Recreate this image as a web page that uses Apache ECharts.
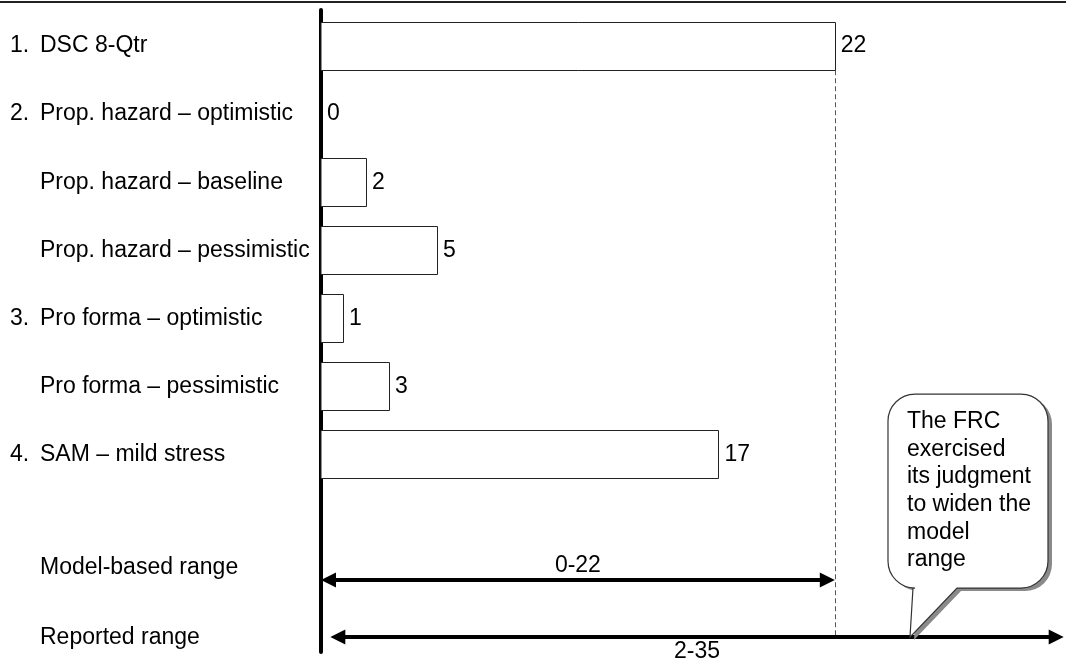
<!DOCTYPE html>
<html>
<head>
<meta charset="utf-8">
<script src="https://cdn.jsdelivr.net/npm/echarts@6/dist/echarts.min.js"></script>
<style>
html,body{margin:0;padding:0;background:#fff;}
#chart{width:1066px;height:663px;}
</style>
</head>
<body>
<div id="chart"></div>
<script>
// ---- data ----
const groupNumbers = ['1.', '2.', '', '', '3.', '', '4.'];
const categories = ['DSC 8-Qtr', 'Prop. hazard – optimistic', 'Prop. hazard – baseline', 'Prop. hazard – pessimistic', 'Pro forma – optimistic', 'Pro forma – pessimistic', 'SAM – mild stress'];
const values = [22, 0, 1.93, 4.97, 0.94, 2.91, 17.02];
const valueLabels = ['22', '0', '2', '5', '1', '3', '17'];
const rangeNames = ['Model-based range', 'Reported range'];
const rangeLabels = ['0-22', '2-35'];
const rangeStarts = [0, 0.4];
const rangeEnds = [22, 31.8];
const rangeLabelRows = [7.66, 8.69];
const rangeArrowRows = [7.84, 8.68];
const calloutText = 'The FRC\nexercised\nits judgment\nto widen the\nmodel\nrange';
const calloutAnchor = [25.22, 8.68];

// ---- chart ----
const FONT = '"Liberation Sans", Arial, sans-serif';
const chart = echarts.init(document.getElementById('chart'), null, {renderer: 'canvas'});

const rowLabelData = categories.map((c, i) => [0, i, groupNumbers[i], c])
  .concat(rangeNames.map((c, i) => [0, rangeLabelRows[i], '', c]));

function textEl(x, y, text, align, vAlign) {
  return {
    type: 'text',
    style: {x: x, y: y, text: text, fill: '#000', font: '23px ' + FONT,
      textAlign: align || 'left', textVerticalAlign: vAlign || 'middle'}
  };
}

function arrowHead(tipX, y, dir) {
  const L = 15, H = 7.5;
  return {
    type: 'polygon',
    shape: {points: [[tipX, y], [tipX + dir * L, y - H], [tipX + dir * L, y + H]]},
    style: {fill: '#000'}
  };
}

const option = {
  animation: false,
  grid: {left: 321, right: 0, top: 10, bottom: 11},
  xAxis: {type: 'value', min: 0, max: 31.9, show: false},
  yAxis: {
    type: 'value', inverse: true, min: -0.529, max: 8.899,
    axisLine: {show: true, onZero: false, lineStyle: {color: '#000', width: 4}},
    axisTick: {show: false}, axisLabel: {show: false}, splitLine: {show: false}
  },
  graphic: [{
    type: 'line', shape: {x1: 0, y1: 2, x2: 1066, y2: 2},
    style: {stroke: '#222', lineWidth: 2}
  }],
  series: [
    {
      // row labels (category names)
      type: 'custom', clip: false, z: 5,
      encode: {x: 0, y: 1},
      data: rowLabelData,
      renderItem: function (params, api) {
        const y = api.coord([0, api.value(1)])[1];
        const children = [];
        const num = rowLabelData[params.dataIndex][2];
        if (num) children.push(textEl(10, y, num));
        children.push(textEl(40, y, rowLabelData[params.dataIndex][3]));
        return {type: 'group', children: children};
      }
    },
    {
      // dashed guide at the DSC value
      type: 'custom', clip: false, z: 1,
      encode: {x: 0, y: 1},
      data: [[values[0], 0, rangeArrowRows[1]]],
      renderItem: function (params, api) {
        const band = api.size([0, 1])[1];
        const p0 = api.coord([api.value(0), api.value(1)]);
        const p1 = api.coord([api.value(0), api.value(2)]);
        const x = Math.round(p0[0]) + 0.5;
        return {
          type: 'line',
          shape: {x1: x, y1: p0[1] + band * 0.356, x2: x, y2: p1[1]},
          style: {stroke: '#555', lineWidth: 1, lineDash: [5, 3]}
        };
      }
    },
    {
      // bars
      type: 'custom', clip: false, z: 2,
      encode: {x: 0, y: 1},
      data: values.map((v, i) => [v, i]),
      renderItem: function (params, api) {
        const band = api.size([0, 1])[1];
        const h = band * 0.712;
        const p0 = api.coord([0, api.value(1)]);
        const p1 = api.coord([api.value(0), api.value(1)]);
        const children = [];
        if (api.value(0) > 0) {
          children.push({
            type: 'rect',
            shape: {x: p0[0], y: Math.round(p0[1] - h / 2) + 0.5, width: Math.round(p1[0] - p0[0]) + 0.5, height: Math.round(h)},
            style: {fill: '#fff', stroke: '#222', lineWidth: 1}
          });
        }
        children.push(textEl(p1[0] + 6, p1[1], valueLabels[params.dataIndex]));
        return {type: 'group', children: children};
      }
    },
    {
      // range arrows
      type: 'custom', clip: false, z: 3,
      encode: {x: [0, 1], y: 2},
      data: rangeStarts.map((s, i) => [s, rangeEnds[i], rangeArrowRows[i]]),
      renderItem: function (params, api) {
        const a = api.coord([api.value(0), api.value(2)]);
        const b = api.coord([api.value(1), api.value(2)]);
        const y = a[1];
        const i = params.dataIndex;
        const labelY = i === 0 ? y - 14 : y + 15;
        return {
          type: 'group',
          children: [
            {type: 'line', shape: {x1: a[0] + 10, y1: y, x2: b[0] - 10, y2: y}, style: {stroke: '#000', lineWidth: 4}},
            arrowHead(a[0], y, 1),
            arrowHead(b[0], y, -1),
            textEl((a[0] + b[0]) / 2, labelY, rangeLabels[i], 'center')
          ]
        };
      }
    },
    {
      // callout
      type: 'custom', clip: false, z: 6,
      encode: {x: 0, y: 1},
      data: [calloutAnchor],
      renderItem: function (params, api) {
        const t = api.coord([api.value(0), api.value(1)]);
        const x0 = t[0] - 22, x1 = t[0] + 138, y0 = t[1] - 243, y1 = t[1] - 49, r = 27;
        const ta = t[0] + 3, tb = t[0] + 47;
        function path(dx, dy) {
          const X0 = x0 + dx, X1 = x1 + dx, Y0 = y0 + dy, Y1 = y1 + dy;
          return 'M' + (X0 + r) + ' ' + Y0 +
            ' L' + (X1 - r) + ' ' + Y0 +
            ' A' + r + ' ' + r + ' 0 0 1 ' + X1 + ' ' + (Y0 + r) +
            ' L' + X1 + ' ' + (Y1 - r) +
            ' A' + r + ' ' + r + ' 0 0 1 ' + (X1 - r) + ' ' + Y1 +
            ' L' + (tb + dx) + ' ' + Y1 +
            ' L' + (t[0] + dx) + ' ' + (t[1] + dy) +
            ' L' + (ta + dx) + ' ' + Y1 +
            ' L' + (X0 + r) + ' ' + Y1 +
            ' A' + r + ' ' + r + ' 0 0 1 ' + X0 + ' ' + (Y1 - r) +
            ' L' + X0 + ' ' + (Y0 + r) +
            ' A' + r + ' ' + r + ' 0 0 1 ' + (X0 + r) + ' ' + Y0 + ' Z';
        }
        return {
          type: 'group',
          children: [
            {type: 'path', shape: {pathData: path(4, 3)}, style: {fill: '#8a8a8a', stroke: null}},
            {type: 'path', shape: {pathData: path(0, 0)}, style: {fill: '#fff', stroke: '#333', lineWidth: 1.2}},
            {
              type: 'text',
              style: {x: t[0] - 3, y: t[1] - 229, text: calloutText, fill: '#000',
                font: '23px ' + FONT, lineHeight: 27.6, textAlign: 'left', textVerticalAlign: 'top'}
            }
          ]
        };
      }
    }
  ]
};
chart.setOption(option);
</script>
</body>
</html>
